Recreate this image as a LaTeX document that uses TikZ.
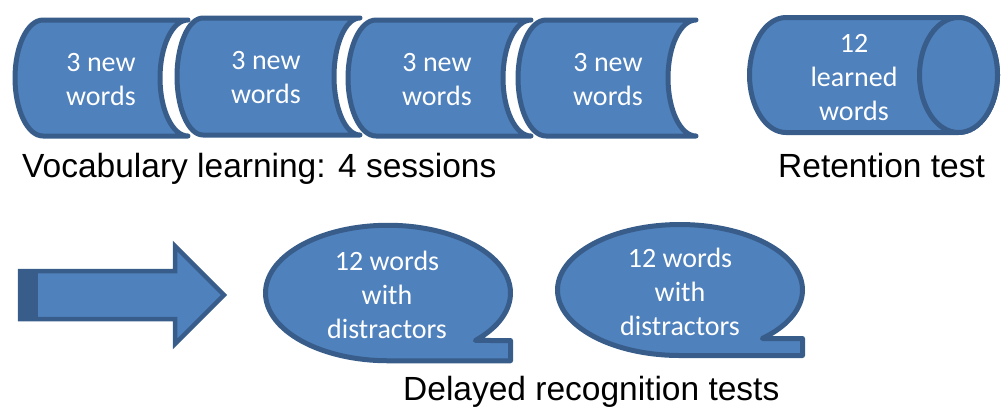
\documentclass[tikz,border=0pt]{standalone}
\usepackage{fontspec}
\setmainfont{Carlito}
\newfontfamily\labelfont{Liberation Sans}
\definecolor{boxfill}{HTML}{4F81BD}
\definecolor{boxline}{HTML}{385D8A}
\tikzset{
  blockshape/.style={fill=boxfill, draw=boxline, line width=5pt, line join=round},
  arrowshape/.style={fill=boxfill, draw=boxline, line width=4.5pt, line join=miter},
  intext/.style={text=white, align=center, inner sep=0pt,
    font=\fontsize{28}{34}\selectfont},
  caption/.style={anchor=base west, inner sep=0pt,
    font=\labelfont\fontsize{33.5}{40}\selectfont}
}
% "stored data" block: convex left end, concave right end
% #1 left x, #2 right corner x, #3 top y, #4 bottom y, #5 end depth
\newcommand{\storedblock}[5]{%
  \pgfmathsetmacro{\hh}{(#4-#3)/2}%
  \draw[blockshape] ({#1+#5},#3) -- (#2,#3)
    arc[start angle=90, end angle=270, x radius=#5pt, y radius=\hh pt]
    -- ({#1+#5},#4)
    arc[start angle=270, end angle=90, x radius=#5pt, y radius=\hh pt]
    -- cycle;}
% speech bubble with a square tail at the lower right
% #1 cx, #2 cy, #3 rx, #4 ry, #5 tail x, #6 tail top y, #7 start angle
\newcommand{\bubble}[7]{%
  \draw[blockshape] (#1,{#2+#4}) -- (#5,{#2+#4}) -- (#5,#6)
    -- ([shift={(#7:#3pt and #4pt)}]#1,#2)
    arc[start angle=#7, end angle=270, x radius=#3pt, y radius=#4pt]
    -- cycle;}
\begin{document}
\begin{tikzpicture}[x=1pt, y=-1pt]
\useasboundingbox (0,0) rectangle (1003,408);

% learning sessions
\storedblock{15}{188}{20}{136}{28}
\storedblock{177}{360}{18}{135}{26}
\storedblock{348}{531}{20}{136}{28}
\storedblock{518}{696}{20}{136}{28}
\node[intext] (s1) at (101,80) {3 new\\words};
\node[intext] (s2) at (266,78) {3 new\\words};
\node[intext] (s3) at (437,80) {3 new\\words};
\node[intext] (s4) at (608,80) {3 new\\words};

% retention test cylinder
\draw[blockshape] (786,17.5) -- (958.5,17.5)
  arc[start angle=90, end angle=-90, x radius=39pt, y radius=57.5pt]
  -- (786,132.5)
  arc[start angle=270, end angle=90, x radius=36.5pt, y radius=57.5pt]
  -- cycle;
\draw[blockshape] (958.5,75) ellipse[x radius=39pt, y radius=57.5pt];
\node[intext] (rt) at (854,78) {12\\learned\\words};

% captions
\node[caption] (cap1) at (22,177) {Vocabulary learning: 4 sessions};
\node[caption] (cap2) at (778,177) {Retention test};
\node[caption] (cap3) at (403,400) {Delayed recognition tests};

% block arrow with darker end face
\draw[arrowshape] (20,271) -- (175,271) -- (175,246) -- (224,295)
  -- (175,344) -- (175,319) -- (20,319) -- cycle;
\fill[boxline] (18,268.75) rectangle (38,321.25);

% recognition test bubbles
\bubble{388}{293}{122.5}{67.75}{510.5}{340.5}{-44.5}
\bubble{680}{290}{122.5}{65.5}{802.5}{338.5}{-47.8}
\node[intext] (b1) at (387,295) {12 words\\with\\distractors};
\node[intext] (b2) at (680,292) {12 words\\with\\distractors};
\end{tikzpicture}
\end{document}
